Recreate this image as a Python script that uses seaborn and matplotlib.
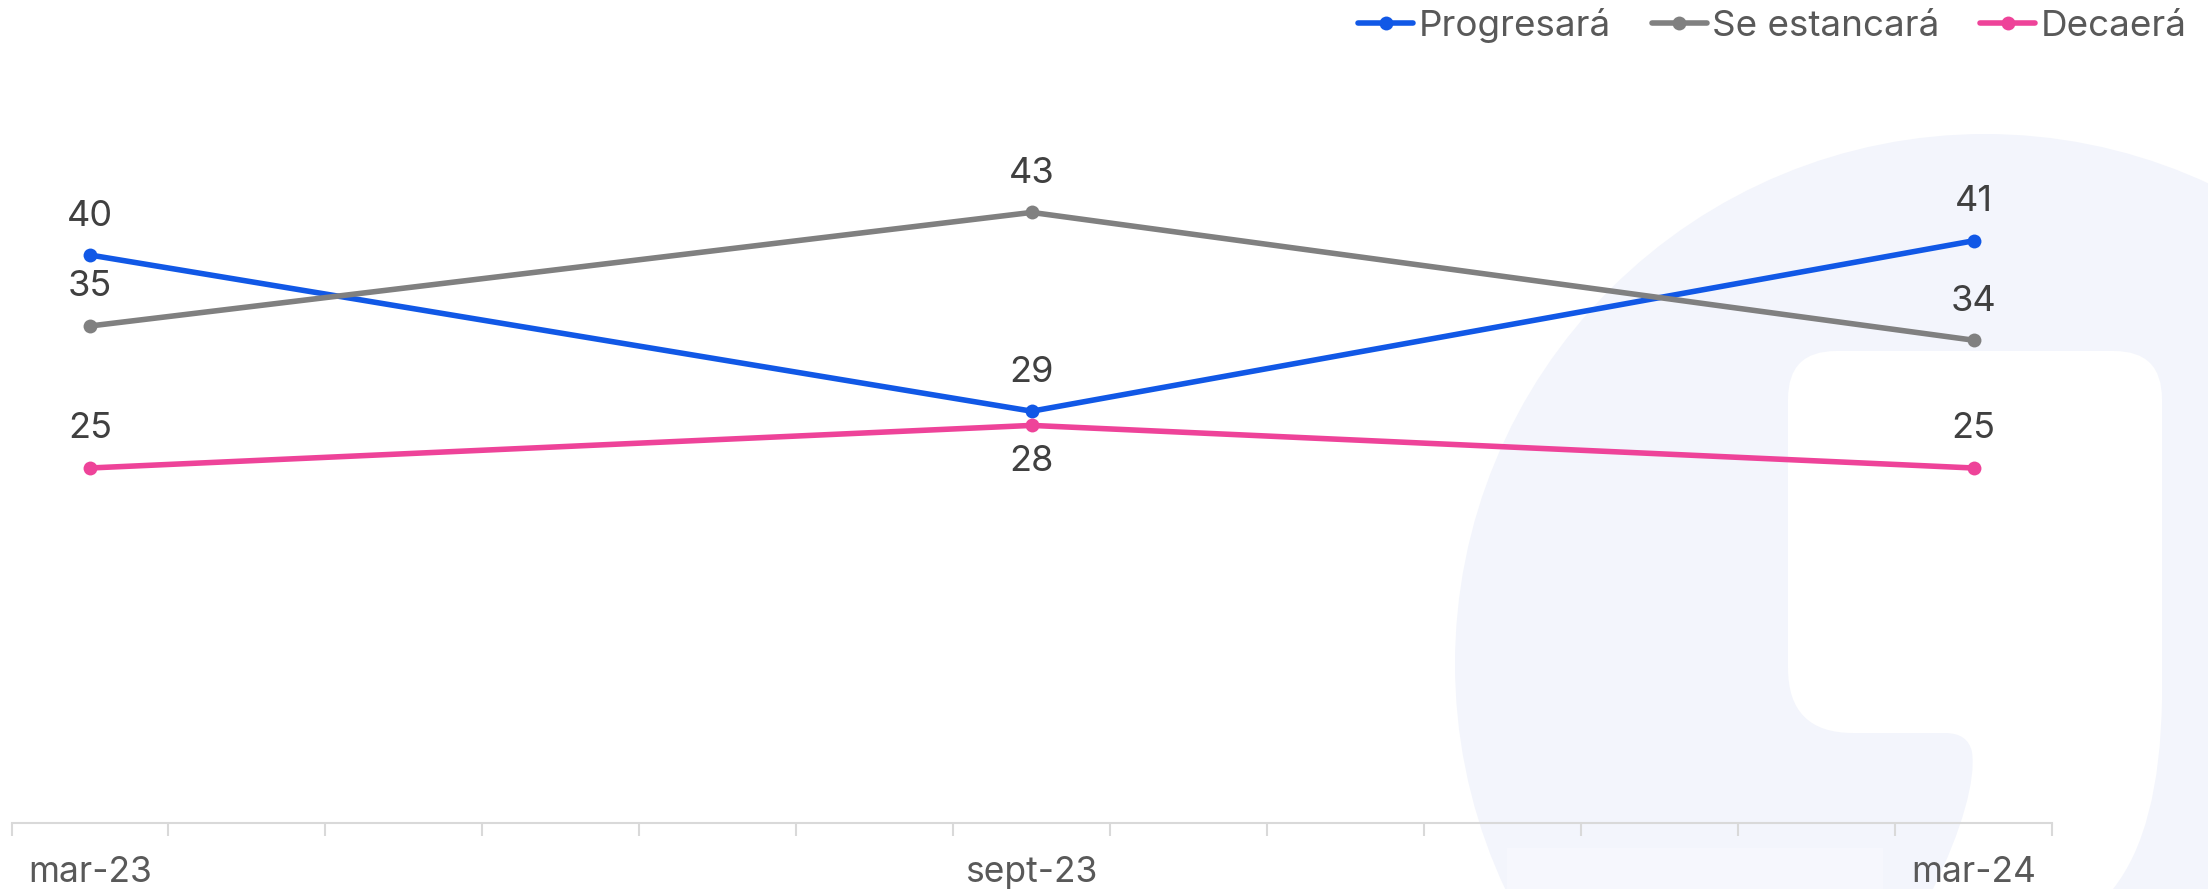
import numpy as np
import pandas as pd
import matplotlib
matplotlib.use("Agg")
import matplotlib.pyplot as plt
import seaborn as sns
from matplotlib.path import Path
from matplotlib.patches import PathPatch, Circle, Rectangle
from matplotlib.lines import Line2D

# ---- data -------------------------------------------------------------
periods = ["mar-23", "sept-23", "mar-24"]
period_dates = ["2023-03-01", "2023-09-01", "2024-03-01"]
progresara = [40, 29, 41]
se_estancara = [35, 43, 34]
decaera = [25, 28, 25]
series_names = ["Progresará", "Se estancará", "Decaerá"]
series_colors = ["#1158E6", "#808080", "#EE4399"]
# where each value label sits relative to its point
label_side = {
    "Progresará": ["above", "above", "above"],
    "Se estancará": ["above", "above", "above"],
    "Decaerá": ["above", "below", "above"],
}

dates = pd.to_datetime(period_dates)
month_idx = (dates.year - dates.year[0]) * 12 + (dates.month - dates.month[0])
n_months = int(month_idx.max()) + 1

df = pd.concat(
    [
        pd.DataFrame({"mes": month_idx, "periodo": periods, "valor": vals, "serie": name})
        for name, vals in zip(series_names, [progresara, se_estancara, decaera])
    ],
    ignore_index=True,
)

# ---- figure -----------------------------------------------------------
sns.set_theme(style="white")
plt.rcParams["font.family"] = ["Inter", "DejaVu Sans"]

W, H, DPI = 2208, 889, 100
fig = plt.figure(figsize=(W / DPI, H / DPI), dpi=DPI)
fig.patch.set_facecolor("white")

# background logo, drawn in pixel space
bg = fig.add_axes([0, 0, 1, 1], zorder=0)
bg.set_xlim(0, W)
bg.set_ylim(H, 0)
bg.axis("off")
lavender = "#F3F5FC"
bg.add_patch(Circle((1985, 664), 530, fc=lavender, ec="none"))
verts = [
    (1836, 351), (2114, 351),
    (2162, 351), (2162, 399),
    (2162, 700),
    (2160, 830), (2113, 889),
    (1933, 889),
    (1962, 830), (1976, 780), (1972, 752),
    (1968, 733), (1945, 733),
    (1853, 733),
    (1788, 733), (1788, 668),
    (1788, 399),
    (1788, 351), (1836, 351),
    (1836, 351),
]
codes = [
    Path.MOVETO, Path.LINETO,
    Path.CURVE3, Path.CURVE3,
    Path.LINETO,
    Path.CURVE3, Path.CURVE3,
    Path.LINETO,
    Path.CURVE4, Path.CURVE4, Path.CURVE4,
    Path.CURVE3, Path.CURVE3,
    Path.LINETO,
    Path.CURVE3, Path.CURVE3,
    Path.LINETO,
    Path.CURVE3, Path.CURVE3,
    Path.CLOSEPOLY,
]
bg.add_patch(PathPatch(Path(verts, codes), fc="white", ec="none"))
bg.add_patch(Rectangle((1507, 848), 376, 60, fc="#F6F7FD", ec="none"))

# main chart axes
ax = fig.add_axes([11.5 / W, 1 - 823 / H, 2040.5 / W, 710 / H], zorder=1)
ax.patch.set_alpha(0)

palette = dict(zip(series_names, series_colors))
sns.lineplot(
    data=df, x="mes", y="valor", hue="serie", hue_order=series_names,
    palette=palette, marker="o", markersize=10, markeredgewidth=0,
    linewidth=4.0, legend=False, ax=ax,
)

# value labels
for name, vals in zip(series_names, [progresara, se_estancara, decaera]):
    for xm, v, side in zip(month_idx, vals, label_side[name]):
        dy = 39 if side == "above" else -36
        ax.annotate(
            f"{v}", (xm, v), xytext=(0, dy), textcoords="offset pixels",
            ha="center", va="center", fontsize=26, color="#404040",
        )

ax.set_xlim(-0.5, n_months - 0.5)
ax.set_ylim(0, 50)
ax.set_xticks(month_idx)
ax.set_xticklabels(periods)
ax.set_xticks(np.arange(-0.5, n_months), minor=True)
ax.tick_params(axis="x", which="major", bottom=True, length=0, pad=24,
               labelsize=25.5, labelcolor="#595959")
ax.tick_params(axis="x", which="minor", bottom=True, length=9, width=1.5,
               color="#D9D9D9", direction="out")
ax.set_yticks([])
ax.set_xlabel("")
ax.set_ylabel("")
for s in ["top", "left", "right"]:
    ax.spines[s].set_visible(False)
ax.spines["bottom"].set_color("#D9D9D9")
ax.spines["bottom"].set_linewidth(1.5)

handles = [
    Line2D([], [], color=c, lw=4.0, marker="o", markersize=10, markeredgewidth=0)
    for c in series_colors
]
fig.legend(
    handles, series_names, loc="upper right", bbox_to_anchor=(2187 / W, 1 - 8 / H),
    ncol=3, frameon=False, fontsize=26.5, labelcolor="#595959",
    handlelength=1.5, handletextpad=0.15, columnspacing=1.1, borderpad=0, borderaxespad=0,
)

fig.savefig("out.png", dpi=DPI, facecolor="white")
